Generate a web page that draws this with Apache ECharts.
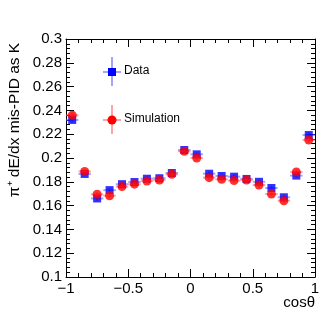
<!DOCTYPE html>
<html>
<head>
<meta charset="utf-8">
<script src="https://cdn.jsdelivr.net/npm/echarts@6/dist/echarts.min.js"></script>
<style>
html,body{margin:0;padding:0;background:#fff;}
#c{width:332px;height:319px;}
</style>
</head>
<body>
<div id="c"></div>
<script>
const cosTheta = [-0.95,-0.85,-0.75,-0.65,-0.55,-0.45,-0.35,-0.25,-0.15,-0.05,0.05,0.15,0.25,0.35,0.45,0.55,0.65,0.75,0.85,0.95];
const dataVals = [0.232,0.1866,0.166,0.173,0.178,0.1798,0.1826,0.183,0.1874,0.2067,0.2031,0.1868,0.1849,0.1843,0.1824,0.180,0.1748,0.167,0.1852,0.2193];
const dataErr  = [0.0025,0.002,0.002,0.002,0.002,0.002,0.002,0.002,0.002,0.002,0.002,0.002,0.002,0.002,0.002,0.002,0.002,0.002,0.002,0.0025];
const simVals  = [0.236,0.1887,0.1695,0.1683,0.176,0.178,0.1807,0.1815,0.1863,0.2056,0.200,0.1835,0.1821,0.181,0.1815,0.1773,0.1697,0.1641,0.1882,0.2151];
const simErr   = [0.0025,0.002,0.002,0.002,0.002,0.002,0.002,0.002,0.002,0.002,0.002,0.002,0.002,0.002,0.002,0.002,0.002,0.002,0.002,0.0025];
const binHalfWidth = 0.05;
const yTicks = [0.1,0.12,0.14,0.16,0.18,0.2,0.22,0.24,0.26,0.28,0.3];

const FONT = 'Liberation Sans, Arial, Helvetica, sans-serif';
const blue = '#0000ff', red = '#ff0000';
const blueErr = 'rgba(90,90,255,0.55)', redErr = 'rgba(255,90,90,0.55)';

function errBars(color){
  return function(params, api){
    const x = api.value(0), y = api.value(1), e = api.value(2);
    const a = api.coord([x - binHalfWidth, y]), b = api.coord([x + binHalfWidth, y]);
    const c = api.coord([x, y - e]), d = api.coord([x, y + e]);
    return {type:'group', children:[
      {type:'line', shape:{x1:a[0],y1:a[1],x2:b[0],y2:b[1]}, style:{stroke:color,lineWidth:2}},
      {type:'line', shape:{x1:c[0],y1:c[1],x2:d[0],y2:d[1]}, style:{stroke:color,lineWidth:2}}
    ]};
  };
}

const fmtMinus = v => String(+(+v).toFixed(3)).replace('-', '\u2212');

const axisCommon = {
  axisLine:{show:true, onZero:false, lineStyle:{color:'#000', width:1}},
  splitLine:{show:false},
  axisTick:{show:true, inside:true, length:8, lineStyle:{color:'#000'}},
  minorTick:{show:true, splitNumber:5, length:4, lineStyle:{color:'#000'}},
};

const chart = echarts.init(document.getElementById('c'), null, {renderer:'canvas'});
chart.setOption({
  animation:false,
  backgroundColor:'#fff',
  grid:{left:66, top:39, right:17, bottom:42, containLabel:false, outerBoundsMode:'none'},
  xAxis:[
    Object.assign({}, axisCommon, {type:'value', position:'bottom', min:-1, max:1, interval:0.5,
      name:'cos\u03b8', nameLocation:'end', nameGap:0, nameMoveOverlap:false,
      nameTextStyle:{fontFamily:FONT, fontSize:15, color:'#000', align:'right', verticalAlign:'top', padding:[18,0,0,0]},
      axisLabel:{fontFamily:FONT, fontSize:15, color:'#000', margin:4, formatter:fmtMinus}}),
    Object.assign({}, axisCommon, {type:'value', position:'top', min:-1, max:1, interval:0.5,
      axisLabel:{show:false}})
  ],
  yAxis:[
    Object.assign({}, axisCommon, {type:'value', position:'left', min:0.1, max:0.3, interval:0.02,
      name:'\u03c0\u207a dE/dx mis-PID as K', nameLocation:'middle', nameRotate:90, nameGap:43, nameMoveOverlap:false,
      nameTextStyle:{fontFamily:FONT, fontSize:15.5, color:'#000', padding:[0,0,0,76]},
      axisLabel:{fontFamily:FONT, fontSize:15, color:'#000', margin:4, formatter:fmtMinus}}),
    Object.assign({}, axisCommon, {type:'value', position:'right', min:0.1, max:0.3, interval:0.02,
      axisLabel:{show:false}})
  ],
  series:[
    {type:'custom', name:'DataErr', renderItem:errBars(blueErr), data:cosTheta.map((x,i)=>[x,dataVals[i],dataErr[i]]), z:2},
    {type:'scatter', name:'Data', symbol:'rect', symbolSize:8, itemStyle:{color:blue}, data:cosTheta.map((x,i)=>[x,dataVals[i]]), z:3},
    {type:'custom', name:'SimErr', renderItem:errBars(redErr), data:cosTheta.map((x,i)=>[x,simVals[i],simErr[i]]), z:4},
    {type:'scatter', name:'Simulation', symbol:'circle', symbolSize:9, itemStyle:{color:red}, data:cosTheta.map((x,i)=>[x,simVals[i]]), z:5}
  ],
  graphic:[
    {type:'line', shape:{x1:112,y1:57,x2:112,y2:86}, style:{stroke:blueErr,lineWidth:2}},
    {type:'line', shape:{x1:103,y1:72,x2:121,y2:72}, style:{stroke:blueErr,lineWidth:2}},
    {type:'rect', shape:{x:108,y:68,width:8,height:8}, style:{fill:blue}},
    {type:'text', left:124, top:65, style:{text:'Data', font:'12px '+FONT, fill:'#000'}},
    {type:'line', shape:{x1:112,y1:105,x2:112,y2:134}, style:{stroke:redErr,lineWidth:2}},
    {type:'line', shape:{x1:103,y1:120,x2:121,y2:120}, style:{stroke:redErr,lineWidth:2}},
    {type:'circle', shape:{cx:112,cy:120,r:4.5}, style:{fill:red}},
    {type:'text', left:124, top:113, style:{text:'Simulation', font:'12px '+FONT, fill:'#000'}}
  ]
});
</script>
</body>
</html>
